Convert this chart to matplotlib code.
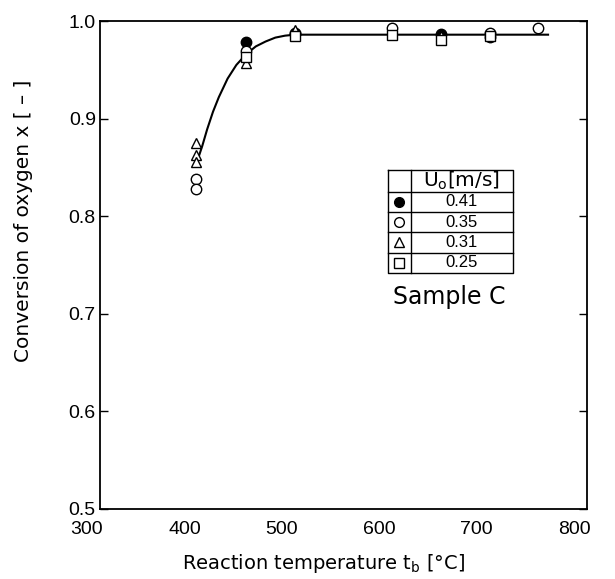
import matplotlib.pyplot as plt
import matplotlib.transforms as mtransforms
import numpy as np

plt.rcParams['font.family'] = ['Liberation Sans', 'DejaVu Sans']

# measured points, one list pair per superficial velocity
t_041 = [450, 500, 650, 700]
x_041 = [0.979, 0.988, 0.987, 0.984]
t_035 = [399, 399, 450, 500, 600, 700, 750]
x_035 = [0.838, 0.828, 0.969, 0.987, 0.993, 0.988, 0.993]
t_031 = [399, 399, 399, 450, 500, 650]
x_031 = [0.875, 0.863, 0.856, 0.957, 0.991, 0.985]
t_025 = [450, 500, 600, 650, 700]
x_025 = [0.963, 0.985, 0.986, 0.981, 0.985]

# fitted curve
curve_t = [401, 405, 410, 416, 422, 431, 440, 450, 460, 470, 480, 490, 500, 520, 760]
curve_x = [0.860, 0.872, 0.889, 0.907, 0.922, 0.941, 0.955, 0.966, 0.974, 0.979, 0.983, 0.985, 0.986, 0.986, 0.986]

velocities = ['0.41', '0.35', '0.31', '0.25']
header = 'U$_\\mathrm{o}$[m/s]'

fig = plt.figure(figsize=(6.15, 5.79), dpi=100)
ax = fig.add_axes([0.1626, 0.1209, 0.7919, 0.8428])

ax.plot(curve_t, curve_x, color='black', lw=1.5, zorder=2)

mk = dict(ms=7.5, mec='black', mew=1.0, ls='none', zorder=3)
ax.plot(t_041, x_041, marker='o', mfc='black', **mk)
ax.plot(t_035, x_035, marker='o', mfc='white', **mk)
ax.plot(t_031, x_031, marker='^', mfc='white', **mk)
ax.plot(t_025, x_025, marker='s', mfc='white', **mk)

ax.set_xlim(300, 800)
ax.set_ylim(0.5, 1.0)
ax.set_xticks([300, 400, 500, 600, 700, 800])
ax.set_yticks([0.5, 0.6, 0.7, 0.8, 0.9, 1.0])
ax.set_yticklabels(['0.5', '0.6', '0.7', '0.8', '0.9', '1.0'])
ax.tick_params(axis='y', direction='in', length=6, width=1.0, left=True, right=True,
               labelsize=14, pad=3)
ax.tick_params(axis='x', length=0, labelsize=14, pad=9)
# x tick labels sit a little left of their positions in the original
shift = mtransforms.ScaledTranslation(-13 / 100, 0, fig.dpi_scale_trans)
for lab in ax.get_xticklabels():
    lab.set_transform(lab.get_transform() + shift)
for s in ax.spines.values():
    s.set_linewidth(1.3)

ax.set_xlabel('Reaction temperature t$_\\mathrm{b}$ [°C]', fontsize=14,
              family=['DejaVu Sans'])
ax.xaxis.set_label_coords(0.458, -0.088)
ax.set_ylabel('Conversion of oxygen x [ – ]', fontsize=14.5, family=['DejaVu Sans'])
ax.yaxis.set_label_coords(-0.138, 0.59)

# legend drawn as a little table
x0, x1 = 0.591, 0.848
y_top, y_bot = 0.695, 0.484
xm = 0.638
rows = np.linspace(y_top - 0.045, y_bot, 5)
tb = dict(transform=ax.transAxes, color='black', lw=1.0, clip_on=False)
ax.plot([x0, x1, x1, x0, x0], [y_top, y_top, y_bot, y_bot, y_top], **tb)
ax.plot([xm, xm], [y_top, y_bot], **tb)
for yy in rows[:-1]:
    ax.plot([x0, x1], [yy, yy], **tb)
ax.text((xm + x1) / 2, (y_top + rows[0]) / 2, header, transform=ax.transAxes,
        ha='center', va='center', fontsize=14.5, family=['DejaVu Sans'])
styles = [('o', 'black'), ('o', 'white'), ('^', 'white'), ('s', 'white')]
for i, (v, (m, fc)) in enumerate(zip(velocities, styles)):
    yc = (rows[i] + rows[i + 1]) / 2
    ax.plot([(x0 + xm) / 2], [yc], marker=m, mfc=fc, mec='black', ms=7, mew=1.0,
            transform=ax.transAxes, clip_on=False)
    ax.text((xm + x1) / 2, yc, v, transform=ax.transAxes, ha='center', va='center',
            fontsize=12)

ax.text(0.717, 0.435, 'Sample C', transform=ax.transAxes, ha='center', va='center',
        fontsize=17, family=['DejaVu Sans'])

fig.savefig('out.png', dpi=100)
